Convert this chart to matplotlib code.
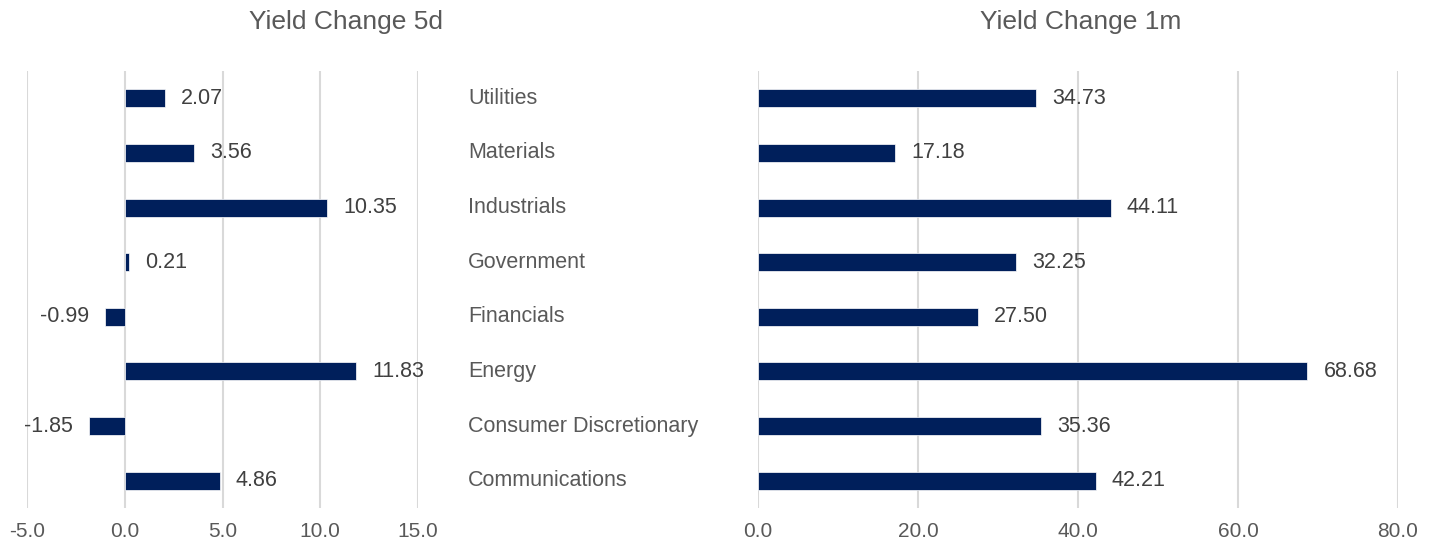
import matplotlib
matplotlib.use("Agg")
import matplotlib.pyplot as plt
from matplotlib.ticker import FormatStrFormatter

plt.rcParams['font.family'] = ['Liberation Sans', 'DejaVu Sans']

sectors = ["Utilities", "Materials", "Industrials", "Government",
           "Financials", "Energy", "Consumer Discretionary", "Communications"]
change_5d = [2.07, 3.56, 10.35, 0.21, -0.99, 11.83, -1.85, 4.86]
change_1m = [34.73, 17.18, 44.11, 32.25, 27.50, 68.68, 35.36, 42.21]
ticks_5d = [-5.0, 0.0, 5.0, 10.0, 15.0]
ticks_1m = [0.0, 20.0, 40.0, 60.0, 80.0]

navy = "#001F5B"
grid_c = "#D9D9D9"
label_c = "#595959"
value_c = "#404040"

W, H = 1437, 547
fig = plt.figure(figsize=(W / 100, H / 100), dpi=100)

top, bottom = 71, 508
ax1 = fig.add_axes([27 / W, 1 - bottom / H, (418 - 27) / W, (bottom - top) / H])
ax2 = fig.add_axes([758 / W, 1 - bottom / H, (1398 - 758) / W, (bottom - top) / H])

ypos = list(range(len(sectors)))


def style(ax, ticks):
    ax.set_xlim(ticks[0], ticks[-1])
    ax.set_ylim(len(sectors) - 0.5, -0.5)
    ax.set_xticks(ticks)
    ax.xaxis.set_major_formatter(FormatStrFormatter('%.1f'))
    ax.set_yticks([])
    for s in ax.spines.values():
        s.set_visible(False)
    ax.grid(axis='x', color=grid_c, linewidth=1.5)
    ax.set_axisbelow(True)
    ax.tick_params(axis='x', length=0, pad=10, labelsize=15, labelcolor=label_c)


def bars(ax, vals):
    ax.barh(ypos, vals, height=0.33, color=navy, edgecolor='white', linewidth=0.5)
    for y, v in zip(ypos, vals):
        off = 11.5 if v >= 0 else -11.5
        ax.annotate(f"{v:.2f}", (v, y), xytext=(off, 0), textcoords='offset points',
                    ha='left' if v >= 0 else 'right', va='center',
                    fontsize=15.5, color=value_c)


style(ax1, ticks_5d)
style(ax2, ticks_1m)
bars(ax1, change_5d)
bars(ax2, change_1m)

# sector names sit between the two panels
for y, name in zip(ypos, sectors):
    ax2.text((468 - 758) / 640, y, name, transform=ax2.get_yaxis_transform(),
             ha='left', va='center', fontsize=15.5, color=label_c)

fig.text(346 / W, 1 - 22 / H, "Yield Change 5d", ha='center', va='center',
         fontsize=19, color=label_c)
fig.text(1081 / W, 1 - 22 / H, "Yield Change 1m", ha='center', va='center',
         fontsize=19, color=label_c)

fig.savefig("out.png", dpi=100, facecolor='white')
